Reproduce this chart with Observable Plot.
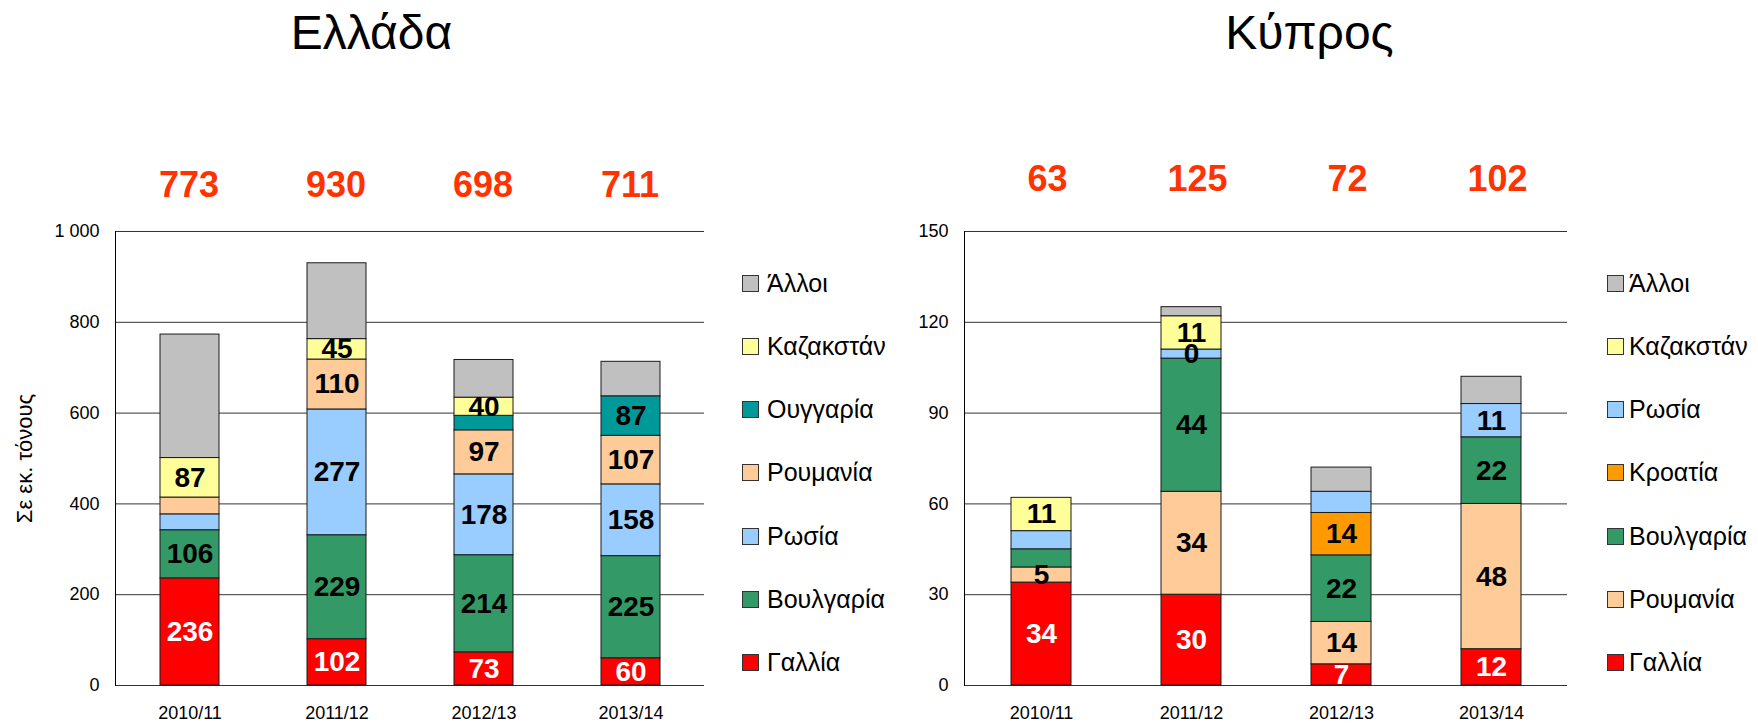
<!DOCTYPE html>
<html>
<head>
<meta charset="utf-8">
<script src="https://cdn.jsdelivr.net/npm/d3@7"></script>
<script src="https://cdn.jsdelivr.net/npm/@observablehq/plot@0.6"></script>
<style>
  body { margin: 0; background: #fff; font-family: "Liberation Sans", Arial, sans-serif; }
  #root { position: relative; width: 1758px; height: 723px; overflow: hidden; background: #fff; }
  .panel { position: absolute; top: 0; width: 879px; height: 723px; }
  .title { position: absolute; top: 9px; left: 0; font-size: 48px; line-height: 48px; text-align: center; color: #000; }
  .plot { position: absolute; top: 80px; left: 0; }
  .legend { position: absolute; top: 0; left: 0; }
  .item { position: absolute; display: flex; align-items: center; height: 20px; font-size: 25px; color: #000; white-space: nowrap; }
  .sw { width: 17px; height: 17px; box-sizing: border-box; border: 1px solid #333; flex: none; }
</style>
</head>
<body>
<div id="root">
  <div class="panel" id="gr" style="left:0px">
    <div class="title" style="width:743px">Ελλάδα</div>
    <div class="plot"></div>
    <div class="legend"></div>
  </div>
  <div class="panel" id="cy" style="left:879px">
    <div class="title" style="width:861px">Κύπρος</div>
    <div class="plot"></div>
    <div class="legend"></div>
  </div>
</div>
<script>
// ---------- shared ----------
const years = ["2010/11", "2011/12", "2012/13", "2013/14"];

// ---------- Ελλάδα ----------
const grSeries = ["Γαλλία", "Βουλγαρία", "Ρωσία", "Ρουμανία", "Ουγγαρία", "Καζακστάν", "Άλλοι"];
const grColors = ["#ff0000", "#339966", "#99ccff", "#ffcc99", "#009999", "#ffff99", "#c0c0c0"];
const grGallia    = [236, 102, 73, 60];
const grVoulgaria = [106, 229, 214, 225];
const grRosia     = [35, 277, 178, 158];
const grRoumania  = [37, 110, 97, 107];
const grOungaria  = [0, 0, 32, 87];
const grKazakstan = [87, 45, 40, 0];
const grAlloi     = [272, 167, 83, 76];
// labels printed inside the segments (null = none)
const grGalliaLbl    = [236, 102, 73, 60];
const grVoulgariaLbl = [106, 229, 214, 225];
const grRosiaLbl     = [null, 277, 178, 158];
const grRoumaniaLbl  = [null, 110, 97, 107];
const grOungariaLbl  = [null, null, null, 87];
const grKazakstanLbl = [87, 45, 40, null];
const grAlloiLbl     = [null, null, null, null];
const grTotals = [773, 930, 698, 711];
const grTicks = [0, 200, 400, 600, 800, 1000];

// ---------- Κύπρος ----------
const cySeries = ["Γαλλία", "Ρουμανία", "Βουλγαρία", "Κροατία", "Ρωσία", "Καζακστάν", "Άλλοι"];
const cyColors = ["#ff0000", "#ffcc99", "#339966", "#ff9900", "#99ccff", "#ffff99", "#c0c0c0"];
const cyGallia    = [34, 30, 7, 12];
const cyRoumania  = [5, 34, 14, 48];
const cyVoulgaria = [6, 44, 22, 22];
const cyKroatia   = [0, 0, 14, 0];
const cyRosia     = [6, 3, 7, 11];
const cyKazakstan = [11, 11, 0, 0];
const cyAlloi     = [0, 3, 8, 9];
const cyGalliaLbl    = [34, 30, 7, 12];
const cyRoumaniaLbl  = [5, 34, 14, 48];
const cyVoulgariaLbl = [null, 44, 22, 22];
const cyKroatiaLbl   = [null, null, 14, null];
const cyRosiaLbl     = [null, 0, null, 11];
const cyKazakstanLbl = [11, 11, null, null];
const cyAlloiLbl     = [null, null, null, null];
const cyTotals = [63, 125, 72, 102];
const cyTicks = [0, 30, 60, 90, 120, 150];

const fmt = d3.formatLocale({decimal: ",", thousands: "\u00a0", grouping: [3], currency: ["", ""]}).format(",d");
const FONT = "'Liberation Sans', Arial, sans-serif";

function chart(cfg) {
  const rows = [];
  years.forEach((yr, i) => cfg.series.forEach((s, j) => {
    rows.push({year: yr, series: s, value: cfg.values[j][i], label: cfg.labels[j][i]});
  }));
  const first = cfg.series[0];
  const marks = [
    Plot.ruleY(cfg.ticks, {stroke: "#333", strokeWidth: 1}),
    Plot.barY(rows, {x: "year", y: "value", fill: "series", stroke: "#1a1a1a", strokeWidth: 1, filter: d => d.value > 0}),
    Plot.text(rows, Plot.stackY({x: "year", y: "value", z: "series",
      text: d => (d.series === first && d.label != null) ? String(d.label) : "",
      fill: "white", fontSize: 28, fontWeight: "bold"})),
    Plot.text(rows, Plot.stackY({x: "year", y: "value", z: "series",
      text: d => (d.series !== first && d.label != null) ? String(d.label) : "",
      fill: "black", fontSize: 28, fontWeight: "bold"})),
    Plot.text(years, {x: d => d, text: (d, i) => String(cfg.totals[i]), frameAnchor: "top",
      textAnchor: "middle", lineAnchor: "middle", dx: cfg.totalsDx, dy: cfg.totalsDy,
      fill: "#ff3300", fontSize: 36, fontWeight: "bold"}),
    Plot.axisY({ticks: cfg.ticks, tickFormat: fmt, tickSize: 0, tickPadding: 16, fontSize: 18, label: null}),
    Plot.axisX({tickSize: 0, tickPadding: 21, fontSize: 18, label: null}),
    Plot.frame({anchor: "left", stroke: "#000", strokeWidth: 1})
  ];
  if (cfg.yLabel) {
    marks.push(Plot.text([cfg.yLabel], {frameAnchor: "left", textAnchor: "middle", lineAnchor: "middle",
      dx: cfg.yLabelDx, rotate: -90, text: d => d, fontSize: 22, fill: "black"}));
  }
  return Plot.plot({
    width: 879, height: 643,
    marginTop: 151, marginBottom: 38, marginLeft: cfg.marginLeft, marginRight: cfg.marginRight,
    style: {fontFamily: FONT, background: "transparent", color: "#000", overflow: "visible"},
    x: {domain: years, paddingInner: 0.6, paddingOuter: 0.3, label: null},
    y: {domain: [0, cfg.ticks[cfg.ticks.length - 1]], label: null},
    color: {domain: cfg.series, range: cfg.colors},
    marks
  });
}

function legend(container, series, colors, left, gap) {
  const order = series.map((s, i) => i).reverse();
  order.forEach((idx, k) => {
    const item = document.createElement("div");
    item.className = "item";
    item.style.left = left + "px";
    item.style.top = (273.3 + k * 63.2) + "px";
    const sw = document.createElement("div");
    sw.className = "sw";
    sw.style.background = colors[idx];
    sw.style.marginRight = gap + "px";
    const t = document.createElement("span");
    t.textContent = series[idx];
    item.appendChild(sw); item.appendChild(t);
    container.appendChild(item);
  });
}

const gr = document.getElementById("gr");
gr.querySelector(".plot").appendChild(chart({
  series: grSeries, colors: grColors,
  values: [grGallia, grVoulgaria, grRosia, grRoumania, grOungaria, grKazakstan, grAlloi],
  labels: [grGalliaLbl, grVoulgariaLbl, grRosiaLbl, grRoumaniaLbl, grOungariaLbl, grKazakstanLbl, grAlloiLbl],
  totals: grTotals, ticks: grTicks, marginLeft: 115, marginRight: 175, totalsDx: -1, totalsDy: -46,
  yLabel: "Σε εκ. τόνους", yLabelDx: -91
}));
legend(gr.querySelector(".legend"), grSeries, grColors, 742, 8);

const cy = document.getElementById("cy");
cy.querySelector(".plot").appendChild(chart({
  series: cySeries, colors: cyColors,
  values: [cyGallia, cyRoumania, cyVoulgaria, cyKroatia, cyRosia, cyKazakstan, cyAlloi],
  labels: [cyGalliaLbl, cyRoumaniaLbl, cyVoulgariaLbl, cyKroatiaLbl, cyRosiaLbl, cyKazakstanLbl, cyAlloiLbl],
  totals: cyTotals, ticks: cyTicks, marginLeft: 85, marginRight: 191, totalsDx: 6, totalsDy: -52,
  yLabel: null
}));
legend(cy.querySelector(".legend"), cySeries, cyColors, 1607 - 879, 5);
</script>
</body>
</html>
